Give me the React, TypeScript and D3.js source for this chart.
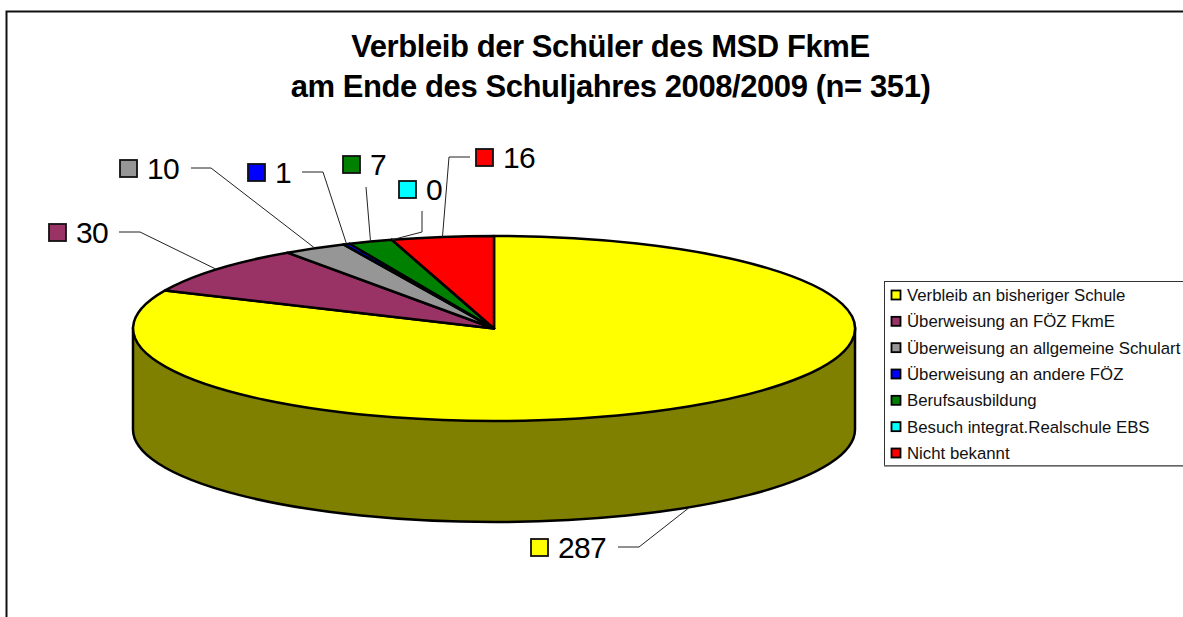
import * as d3 from 'd3';

const WIDTH = 1183;
const HEIGHT = 617;

const titleLines = ['Verbleib der Schüler des MSD FkmE', 'am Ende des Schuljahres 2008/2009 (n= 351)'];
const categories = [
  'Verbleib an bisheriger Schule',
  'Überweisung an FÖZ FkmE',
  'Überweisung an allgemeine Schulart',
  'Überweisung an andere FÖZ',
  'Berufsausbildung',
  'Besuch integrat.Realschule EBS',
  'Nicht bekannt',
];
const values = [287, 30, 10, 1, 7, 0, 16];
const colors = ['#ffff00', '#993366', '#969696', '#0000ff', '#008000', '#00ffff', '#ff0000'];
const SIDE_COLOR = '#808000';

// pie geometry
const CX = 494;
const CY = 328.5;
const RX = 361;
const RY = 92.5;
const DEPTH = 101;

// label layout, same order as categories: [key x, key y, elbow x, elbow y, leader start x, leader start y]
const labelLayout = [
  [531, 539, 639, 547, 618, 547],
  [49, 224, 140, 232, 119, 232],
  [120, 160, 211, 168, 191, 168],
  [248, 164, 323, 172, 302, 172],
  [343, 156, 366, 187, 366, 187],
  [399, 181, 422, 232, 422, 211],
  [476, 149, 449, 157, 470, 157],
];

const legendY = d3.scalePoint<string>().domain(categories).range([295, 453]);

export default function App() {
  const pie = d3.pie<number>().sort(null).value((d) => d);
  const slices = pie(values);
  const arc = d3.arc<d3.PieArcDatum<number>>().innerRadius(0).outerRadius(1);

  const side = `M${CX - RX},${CY} V${CY + DEPTH} A${RX},${RY} 0 0 0 ${CX + RX},${CY + DEPTH} V${CY} Z`;

  // Where a leader line touches the pie: outer edge at the middle of the slice
  const anchor = (i: number) => {
    const s = slices[i];
    const a = (s.startAngle + s.endAngle) / 2;
    const x = CX + RX * Math.sin(a);
    const y = CY - RY * Math.cos(a);
    return Math.cos(a) < 0 ? [x, y + DEPTH] : [x, y];
  };

  return (
    <svg
      width={WIDTH}
      height={HEIGHT}
      viewBox={`0 0 ${WIDTH} ${HEIGHT}`}
      style={{ position: 'fixed', left: 0, top: 0, background: '#fff', fontFamily: '"Liberation Sans", Arial, sans-serif' }}
    >
      {/* Chart frame runs off the right and bottom of the picture */}
      <rect x={6.5} y={11.5} width={WIDTH + 20} height={HEIGHT + 20} fill="#fff" stroke="#111" strokeWidth={2} />

      {titleLines.map((t, i) => (
        <text key={t} x={610.5} y={57 + i * 39.5} textAnchor="middle" fontSize={31} fontWeight={700} letterSpacing={-0.42} fill="#000">
          {t}
        </text>
      ))}

      {/* Pie body */}
      <path d={side} fill={SIDE_COLOR} stroke="#000" strokeWidth={2.5} />
      <g transform={`translate(${CX},${CY}) scale(${RX},${RY})`}>
        {slices.map((s, i) => (
          <path
            key={categories[i]}
            d={arc(s) ?? ''}
            fill={colors[i]}
            stroke="#000"
            strokeWidth={2.5}
            strokeLinejoin="round"
            vectorEffect="non-scaling-stroke"
          />
        ))}
      </g>

      {/* Data labels with leader lines */}
      {values.map((v, i) => {
        const [kx, ky, ex, ey, sx, sy] = labelLayout[i];
        const [ax, ay] = anchor(i);
        return (
          <g key={categories[i]}>
            <path d={d3.line()([[sx, sy], [ex, ey], [ax, ay]]) ?? ''} fill="none" stroke="#222" strokeWidth={1} />
            <rect x={kx} y={ky} width={17} height={17} fill={colors[i]} stroke="#111" strokeWidth={1.8} />
            <text x={kx + 27} y={ky + 19} fontSize={30} letterSpacing={-0.7} fill="#000">
              {v}
            </text>
          </g>
        );
      })}

      {/* Legend */}
      <rect x={884.5} y={281.5} width={WIDTH} height={184} fill="#fff" stroke="#333" strokeWidth={1} />
      <line x1={884} x2={WIDTH} y1={466} y2={466} stroke="#777" strokeWidth={1.5} />
      {categories.map((c, i) => (
        <g key={c}>
          <rect x={891.5} y={(legendY(c) ?? 0) - 4.5} width={9} height={9} fill={colors[i]} stroke="#000" strokeWidth={1.8} />
          <text x={907} y={(legendY(c) ?? 0) + 6} fontSize={16.8} fill="#111">
            {c}
          </text>
        </g>
      ))}
    </svg>
  );
}
